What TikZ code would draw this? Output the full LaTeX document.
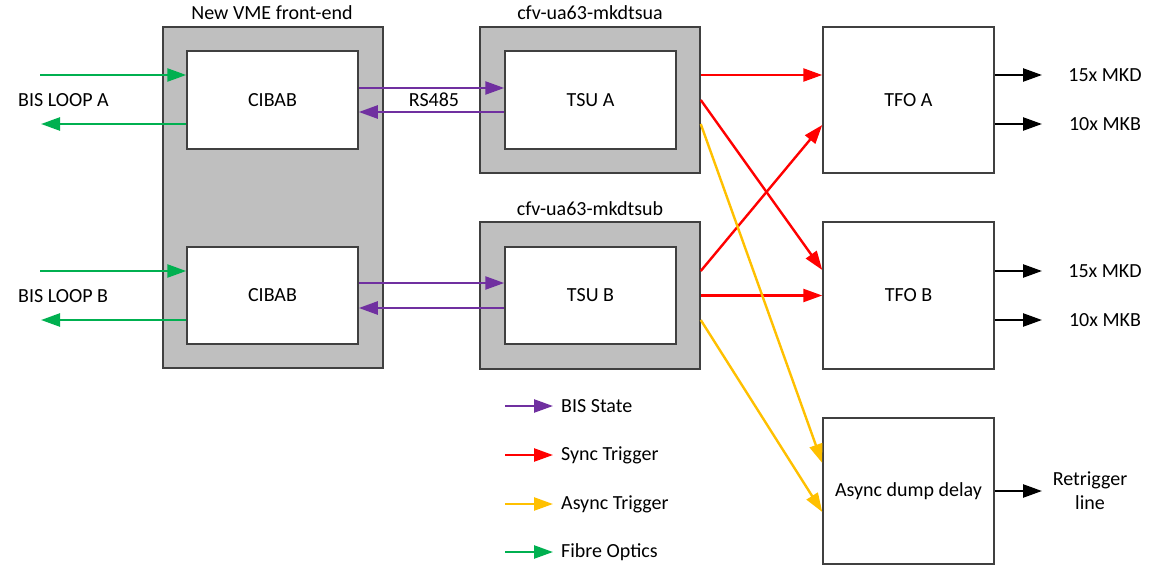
\documentclass[tikz,border=0pt]{standalone}
\usepackage{fontspec}
\setmainfont{Carlito}
\usetikzlibrary{arrows.meta}
\definecolor{boxline}{HTML}{404040}
\definecolor{shell}{HTML}{BFBFBF}
\definecolor{fibre}{HTML}{00B050}
\definecolor{bis}{HTML}{7030A0}
\definecolor{sync}{HTML}{FF0000}
\definecolor{async}{HTML}{FFC000}
\tikzset{
  shellbox/.style={draw=boxline, line width=1.5pt, fill=shell, inner sep=0pt},
  unitbox/.style={draw=boxline, line width=1.5pt, fill=white, inner sep=0pt,
    minimum width=171pt, font=\fontsize{20}{24}\selectfont},
  lbl/.style={inner sep=0pt, font=\fontsize{20}{24}\selectfont},
  link/.style={line width=2.4pt, -{Triangle[length=19pt,width=13pt]}},
  fibrelink/.style={link, draw=fibre},
  bislink/.style={link, draw=bis},
  synclink/.style={link, draw=sync},
  asynclink/.style={link, draw=async},
  outlink/.style={link, draw=black},
}
\begin{document}
\begin{tikzpicture}[x=1pt, y=-1pt]
\useasboundingbox (0,0) rectangle (1174,567);

% VME crate with its two CIBAB cards
\node[shellbox, minimum width=220pt, minimum height=341pt] (vme) at (273,197.5) {};
\node[lbl] (vmeT) at (272,13) {New VME front-end};
\node[unitbox, minimum height=98pt] (cibA) at (272.5,100) {CIBAB};
\node[unitbox, minimum height=97pt] (cibB) at (272.5,295.5) {CIBAB};

% Trigger synchronisation units
\node[shellbox, minimum width=220pt, minimum height=146pt] (tsuAo) at (590,100) {};
\node[lbl] (tsuAT) at (590,13) {cfv-ua63-mkdtsua};
\node[unitbox, minimum height=98pt] (tsuA) at (590.5,100) {TSU A};
\node[shellbox, minimum width=220pt, minimum height=147pt] (tsuBo) at (590,295.5) {};
\node[lbl] (tsuBT) at (590,209) {cfv-ua63-mkdtsub};
\node[unitbox, minimum height=97pt] (tsuB) at (590.5,295.5) {TSU B};

% Trigger fan-outs and the asynchronous delay
\node[unitbox, minimum height=146pt] (tfoA) at (908.5,100) {TFO A};
\node[unitbox, minimum height=147pt] (tfoB) at (908.5,295.5) {TFO B};
\node[unitbox, minimum height=146pt] (adel) at (908.5,491) {Async dump delay};

% BIS loops (fibre optics)
\node[lbl, anchor=west] (loopA) at (18,100) {BIS LOOP A};
\node[lbl, anchor=west] (loopB) at (18,296) {BIS LOOP B};
\coordinate (loopAin) at (40,75);
\coordinate (loopAout) at (41,124);
\coordinate (loopBin) at (40,271);
\coordinate (loopBout) at (41,320);
\draw[fibrelink] (loopAin) -- (loopAin -| cibA.west);
\draw[fibrelink] (loopAout -| cibA.west) -- (loopAout);
\draw[fibrelink] (loopBin) -- (loopBin -| cibB.west);
\draw[fibrelink] (loopBout -| cibB.west) -- (loopBout);

% RS485 links between CIBAB and TSU
\draw[bislink] ([yshift=12pt]cibA.east) -- ([yshift=12pt]tsuA.west);
\draw[bislink] ([yshift=-12pt]tsuA.west) -- ([yshift=-12pt]cibA.east);
\node[lbl] (rs) at (434,100) {RS485};
\draw[bislink] ([yshift=12.5pt]cibB.east) -- ([yshift=12.5pt]tsuB.west);
\draw[bislink] ([yshift=-12.5pt]tsuB.west) -- ([yshift=-12.5pt]cibB.east);

% Synchronous triggers
\draw[synclink] ([yshift=25pt]tsuAo.east) -- ([yshift=25pt]tfoA.west);
\draw[synclink] (tsuAo.east) -- ([yshift=25.5pt]tfoB.west);
\draw[synclink] ([yshift=24.5pt]tsuBo.east) -- ([yshift=-25pt]tfoA.west);
\draw[synclink] (tsuBo.east) -- (tfoB.west);

% Asynchronous triggers
\draw[asynclink] ([yshift=-24pt]tsuAo.east) -- ([yshift=28pt]adel.west);
\draw[asynclink] ([yshift=-24.5pt]tsuBo.east) -- ([yshift=-21pt]adel.west);

% Outputs
\node[lbl] (mkdA) at (1105,75) {15x MKD};
\node[lbl] (mkbA) at (1105,124) {10x MKB};
\node[lbl] (mkdB) at (1105,271) {15x MKD};
\node[lbl] (mkbB) at (1105,320) {10x MKB};
\node[lbl, align=center] (retrig) at (1090,491) {Retrigger\\line};
\coordinate (endA1) at (1042,75);
\coordinate (endA2) at (1042,124);
\coordinate (endB1) at (1042,271);
\coordinate (endB2) at (1042,320);
\coordinate (endR) at (1042,491);
\draw[outlink] (endA1 -| tfoA.east) -- (endA1);
\draw[outlink] (endA2 -| tfoA.east) -- (endA2);
\draw[outlink] (endB1 -| tfoB.east) -- (endB1);
\draw[outlink] (endB2 -| tfoB.east) -- (endB2);
\draw[outlink] (adel.east) -- (endR);

% Legend
\node[lbl, anchor=west] (lgBis) at (561,406) {BIS State};
\node[lbl, anchor=west] (lgSync) at (561,455) {Sync Trigger};
\node[lbl, anchor=west] (lgAsync) at (561,504) {Async Trigger};
\node[lbl, anchor=west] (lgFibre) at (561,552) {Fibre Optics};
\coordinate (lgBisS) at (505,406);   \coordinate (lgBisE) at (553,406);
\coordinate (lgSyncS) at (505,455);  \coordinate (lgSyncE) at (553,455);
\coordinate (lgAsyncS) at (505,504); \coordinate (lgAsyncE) at (553,504);
\coordinate (lgFibreS) at (505,552); \coordinate (lgFibreE) at (553,552);
\draw[bislink] (lgBisS) -- (lgBisE);
\draw[synclink] (lgSyncS) -- (lgSyncE);
\draw[asynclink] (lgAsyncS) -- (lgAsyncE);
\draw[fibrelink] (lgFibreS) -- (lgFibreE);
\end{tikzpicture}
\end{document}
